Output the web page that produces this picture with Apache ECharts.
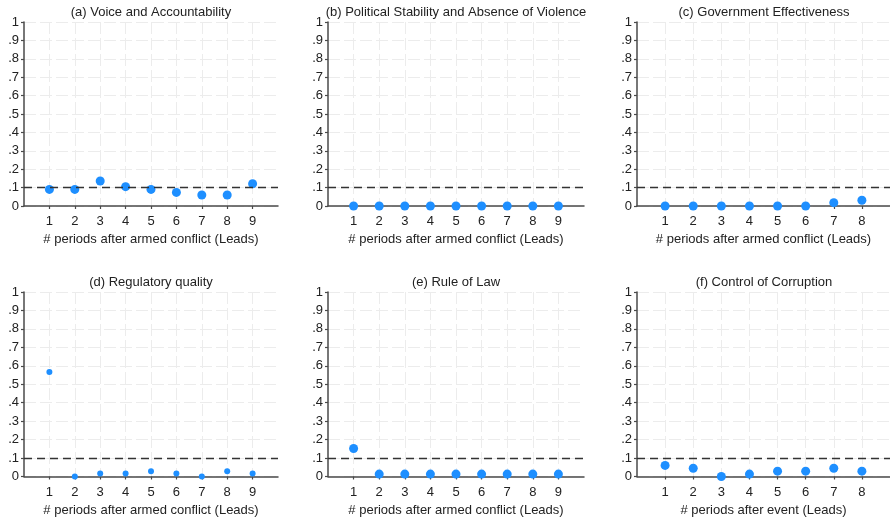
<!DOCTYPE html>
<html>
<head>
<meta charset="utf-8">
<script src="https://cdn.jsdelivr.net/npm/echarts@6/dist/echarts.min.js"></script>
<style>
html,body{margin:0;padding:0;background:#fff;}
#chart{width:890px;height:519px;}
</style>
</head>
<body>
<div id="chart"></div>
<script>
// ---- data ----
const periodsNine = [1, 2, 3, 4, 5, 6, 7, 8, 9];
const periodsEight = [1, 2, 3, 4, 5, 6, 7, 8];
const voiceAccountability = [0.09, 0.09, 0.136, 0.105, 0.09, 0.074, 0.06, 0.06, 0.121];
const politicalStability = [0, 0, 0, 0, 0, 0, 0, 0, 0];
const governmentEffectiveness = [0, 0, 0, 0, 0, 0, 0.018, 0.031];
const regulatoryQuality = [0.567, 0, 0.016, 0.016, 0.029, 0.016, 0, 0.029, 0.016];
const ruleOfLaw = [0.152, 0.013, 0.013, 0.013, 0.013, 0.013, 0.013, 0.013, 0.013];
const controlOfCorruption = [0.06, 0.045, 0, 0.013, 0.029, 0.029, 0.045, 0.029];
const panelTitles = [
  '(a) Voice and Accountability',
  '(b) Political Stability and Absence of Violence',
  '(c) Government Effectiveness',
  '(d) Regulatory quality',
  '(e) Rule of Law',
  '(f) Control of Corruption'
];
const xAxisNames = [
  '# periods after armed conflict (Leads)',
  '# periods after armed conflict (Leads)',
  '# periods after armed conflict (Leads)',
  '# periods after armed conflict (Leads)',
  '# periods after armed conflict (Leads)',
  '# periods after event (Leads)'
];
const yTickValues = [0, 0.1, 0.2, 0.3, 0.4, 0.5, 0.6, 0.7, 0.8, 0.9, 1];
const yTickLabels = ['0', '.1', '.2', '.3', '.4', '.5', '.6', '.7', '.8', '.9', '1'];
const referenceLevel = 0.1;

// ---- layout ----
const panels = [
  { x: periodsNine, y: voiceAccountability, left: 24, top: 22, width: 254, height: 184, xmax: 10, size: 9 },
  { x: periodsNine, y: politicalStability, left: 328, top: 22, width: 256, height: 184, xmax: 10, size: 9 },
  { x: periodsEight, y: governmentEffectiveness, left: 637, top: 22, width: 254, height: 184, xmax: 9, size: 9 },
  { x: periodsNine, y: regulatoryQuality, left: 24, top: 292, width: 254, height: 184.5, xmax: 10, size: 6 },
  { x: periodsNine, y: ruleOfLaw, left: 328, top: 292, width: 256, height: 184.5, xmax: 10, size: 9 },
  { x: periodsEight, y: controlOfCorruption, left: 637, top: 292, width: 254, height: 184.5, xmax: 9, size: 9 }
];

const FONT = 'Liberation Sans, Arial, Helvetica, sans-serif';
const TEXT = '#222';
const AXIS = '#4a4a4a';
const BLUE = '#1e8fff';

const grids = [], xAxes = [], yAxes = [], series = [], titles = [];
panels.forEach((p, i) => {
  grids.push({ left: p.left, top: p.top, width: p.width, height: p.height, containLabel: false });
  titles.push({
    text: panelTitles[i],
    left: p.left + p.width / 2,
    top: p.top - 16,
    textAlign: 'center',
    padding: 0,
    textStyle: { fontFamily: FONT, fontSize: 13, fontWeight: 'normal', color: TEXT }
  });
  xAxes.push({
    type: 'value', gridIndex: i, min: 0, max: p.xmax, interval: 1,
    name: xAxisNames[i], nameLocation: 'middle', nameGap: 27,
    nameTextStyle: { fontFamily: FONT, fontSize: 13, color: TEXT },
    axisLine: { show: true, onZero: false, lineStyle: { color: AXIS, width: 1.5 } },
    axisTick: { show: true, length: 3, customValues: p.x, lineStyle: { color: AXIS, width: 1.2 } },
    axisLabel: { customValues: p.x, margin: 9, fontFamily: FONT, fontSize: 13, color: TEXT },
    splitLine: { show: true, lineStyle: { color: '#ececec', width: 1, type: [12, 4] } }
  });
  yAxes.push({
    type: 'value', gridIndex: i, min: 0, max: 1, interval: 0.1,
    axisLine: { show: true, onZero: false, lineStyle: { color: AXIS, width: 1.5 } },
    axisTick: { show: true, length: 3, lineStyle: { color: AXIS, width: 1.2 } },
    axisLabel: {
      margin: 5, fontFamily: FONT, fontSize: 13, color: TEXT,
      formatter: v => {
        const k = yTickValues.findIndex(t => Math.abs(t - v) < 1e-6);
        return k >= 0 ? yTickLabels[k] : '';
      }
    },
    splitLine: { show: true, lineStyle: { color: '#ececec', width: 1, type: [12, 4] } }
  });
  series.push({
    type: 'scatter', xAxisIndex: i, yAxisIndex: i,
    data: p.x.map((xv, k) => [xv, p.y[k]]),
    symbol: 'circle', symbolSize: p.size,
    itemStyle: { color: BLUE, opacity: 1 },
    z: 3,
    markLine: {
      silent: true, symbol: 'none', label: { show: false },
      lineStyle: { color: '#333', width: 1.4, type: [8, 5] },
      data: [{ yAxis: referenceLevel }],
      animation: false
    }
  });
});

const chart = echarts.init(document.getElementById('chart'), null, { renderer: 'canvas' });
chart.setOption({
  animation: false,
  backgroundColor: '#fff',
  title: titles,
  grid: grids,
  xAxis: xAxes,
  yAxis: yAxes,
  series: series
});
</script>
</body>
</html>
